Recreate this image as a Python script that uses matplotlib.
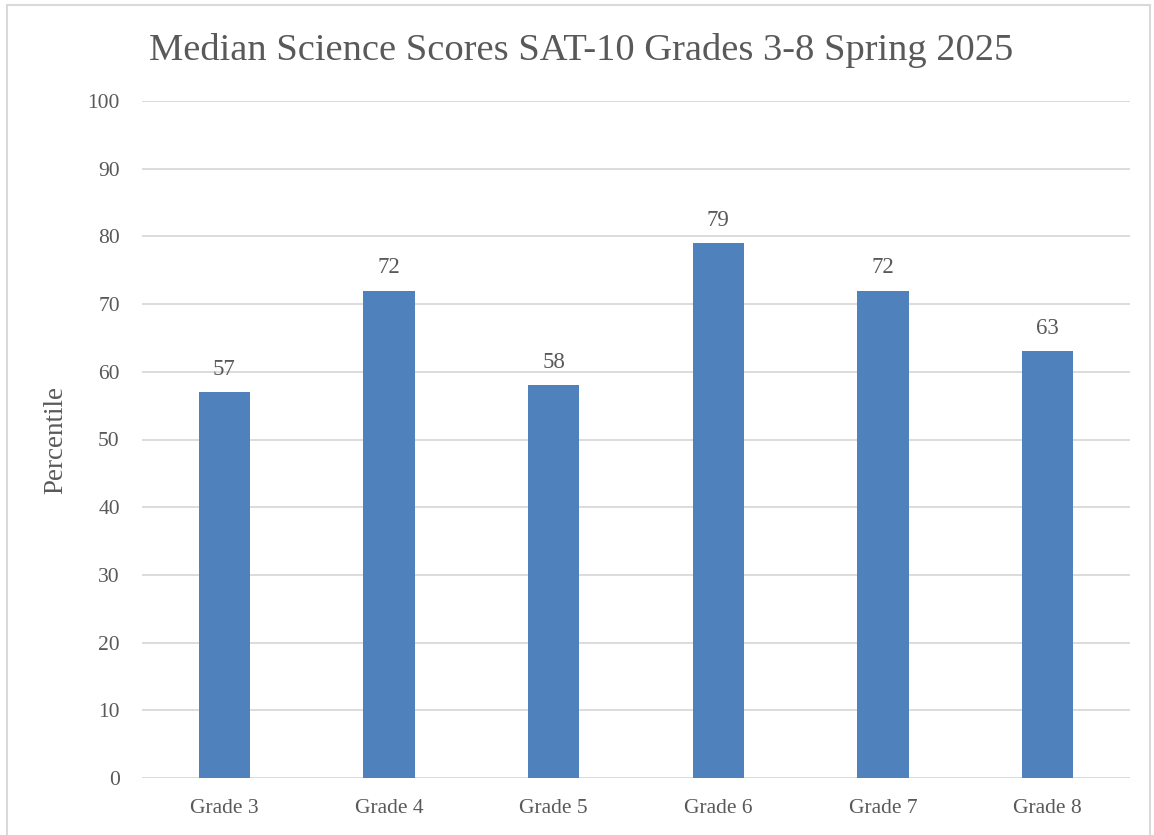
import matplotlib
matplotlib.use("Agg")
import matplotlib.pyplot as plt
from matplotlib.patches import Rectangle

categories = ["Grade 3", "Grade 4", "Grade 5", "Grade 6", "Grade 7", "Grade 8"]
values = [57, 72, 58, 79, 72, 63]
yticks = [0, 10, 20, 30, 40, 50, 60, 70, 80, 90, 100]

TXT = "#595959"
GRID = "#D9D9D9"
BAR = "#4F81BD"
plt.rcParams["font.family"] = ["Liberation Serif", "DejaVu Serif"]

fig = plt.figure(figsize=(11.54, 8.35), dpi=100)
ax = fig.add_axes([142/1154, 57/835, 988/1154, 677/835])

x = list(range(len(categories)))
bars = ax.bar(x, values, width=0.31, color=BAR, zorder=3)
for xi, v in zip(x, values):
    ax.annotate(str(v), (xi, v), xytext=(0, 9), textcoords="offset points",
                ha="center", va="bottom", fontsize=16.5, color=TXT)

ax.set_xlim(-0.5, len(categories) - 0.5)
ax.set_ylim(0, 100)
ax.set_yticks(yticks)
ax.set_xticks(x)
ax.set_xticklabels(categories)
ax.tick_params(axis="both", length=0, labelsize=15.5, colors=TXT)
ax.tick_params(axis="x", pad=15)
ax.tick_params(axis="y", pad=16)
ax.grid(axis="y", color=GRID, linewidth=1.3, zorder=0)
for s in ax.spines.values():
    s.set_visible(False)
ax.set_ylabel("Percentile", fontsize=19.5, color=TXT, labelpad=14)

fig.text(581/1154, 1 - 50/835, "Median Science Scores SAT-10 Grades 3-8 Spring 2025",
         ha="center", va="center", fontsize=27.7, color=TXT)

fig.patches.append(Rectangle((7/1154, -0.05), 1143/1154, 1 - 5/835 + 0.05,
                             transform=fig.transFigure, fill=False,
                             edgecolor=GRID, linewidth=1.5))

fig.savefig("out.png", dpi=100)
